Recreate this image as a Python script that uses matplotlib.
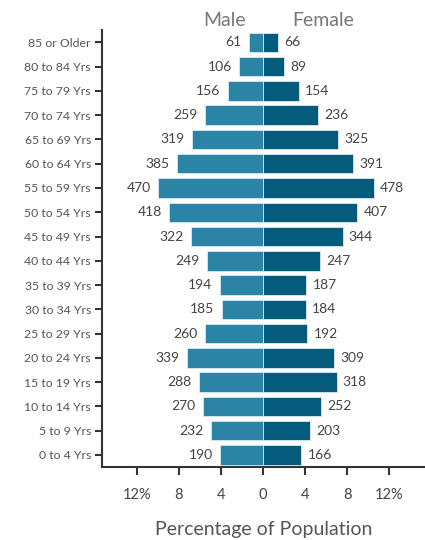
import numpy as np
import matplotlib
matplotlib.use('Agg')
import matplotlib.pyplot as plt

# age groups, bottom to top
age_groups = ['0 to 4 Yrs', '5 to 9 Yrs', '10 to 14 Yrs', '15 to 19 Yrs', '20 to 24 Yrs',
              '25 to 29 Yrs', '30 to 34 Yrs', '35 to 39 Yrs', '40 to 44 Yrs', '45 to 49 Yrs',
              '50 to 54 Yrs', '55 to 59 Yrs', '60 to 64 Yrs', '65 to 69 Yrs', '70 to 74 Yrs',
              '75 to 79 Yrs', '80 to 84 Yrs', '85 or Older']
male = [190, 232, 270, 288, 339, 260, 185, 194, 249, 322, 418, 470, 385, 319, 259, 156, 106, 61]
female = [166, 203, 252, 318, 309, 192, 184, 187, 247, 344, 407, 478, 391, 325, 236, 154, 89, 66]
x_ticks = [-12, -8, -4, 0, 4, 8, 12]
x_ticklabels = ['12%', '8', '4', '0', '4', '8', '12%']

male_color = '#2b84a6'
female_color = '#045b7b'
text_color = '#444444'

plt.rcParams['font.family'] = ['Lato', 'DejaVu Sans']

# each side as share of its own sex total
male_pct = np.array(male) / np.sum(male) * 100
female_pct = np.array(female) / np.sum(female) * 100
y = np.arange(len(age_groups))

fig = plt.figure(figsize=(4.25, 5.4), dpi=100)
ax = fig.add_axes([0.24, 0.135, 0.76, 0.809])

ax.barh(y, -male_pct, height=0.8, color=male_color, edgecolor='#dbe9ef', linewidth=0.6)
ax.barh(y, female_pct, height=0.8, color=female_color, edgecolor='#dbe9ef', linewidth=0.6)

for yi, mp, mv in zip(y, male_pct, male):
    ax.text(-mp - 0.7, yi, str(mv), ha='right', va='center', fontsize=10, color=text_color)
for yi, fp, fv in zip(y, female_pct, female):
    ax.text(fp + 0.6, yi, str(fv), ha='left', va='center', fontsize=10, color=text_color)

ax.set_xlim(-15.3, 15.4)
ax.set_ylim(-0.5, 17.5)
ax.set_yticks(y)
ax.set_yticklabels(age_groups, fontsize=8.8, color='#555555')
ax.set_xticks(x_ticks)
ax.set_xticklabels(x_ticklabels, fontsize=10.5, color=text_color)
ax.tick_params(axis='y', length=5, width=1.5, color='#333333', pad=3)
ax.tick_params(axis='x', length=6, width=1.5, color='#333333', pad=9)

for side in ['top', 'right']:
    ax.spines[side].set_visible(False)
for side in ['left', 'bottom']:
    ax.spines[side].set_color('#333333')
    ax.spines[side].set_linewidth(1.5)

ax.set_xlabel('Percentage of Population', fontsize=14, color='#555555', labelpad=14)

fig.text(225 / 425, 1 - 20 / 540, 'Male', ha='center', va='center', fontsize=14, color='#777777')
fig.text(323 / 425, 1 - 20 / 540, 'Female', ha='center', va='center', fontsize=14, color='#777777')

fig.savefig('out.png', dpi=100)
